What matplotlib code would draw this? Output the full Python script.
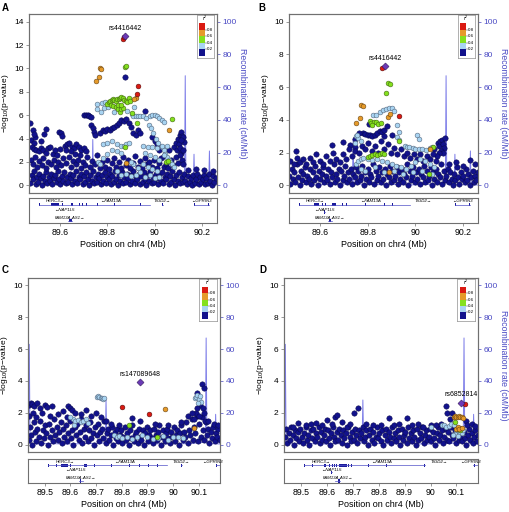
import numpy as np
import matplotlib
matplotlib.use('Agg')
import matplotlib.pyplot as plt
from matplotlib.patches import Rectangle

plt.rcParams['font.family'] = ['Liberation Sans', 'DejaVu Sans']
plt.rcParams['mathtext.default'] = 'regular'

NAVY = '#12128C'
LBLUE = '#A8D4F2'
GREEN = '#84E01E'
ORANGE = '#E59A2A'
RED = '#DA1A12'
LEAD = '#6B3AB6'
REC = '#7C7CE8'
AXBLUE = '#4A4AC4'
FRAME = '#707070'
GENE = '#5050C8'
GENE_DARK = '#1A1A9A'

# recombination map (cM/Mb), same region in all four panels
rec_pos = [89.430, 89.437, 89.440, 89.443, 89.47, 89.52, 89.58, 89.64, 89.70, 89.736, 89.739, 89.742,
           89.78, 89.85, 89.92, 89.99, 90.06, 90.10, 90.126, 90.129, 90.132, 90.150, 90.163, 90.166,
           90.169, 90.20, 90.228, 90.231, 90.234, 90.27]
rec_rate = [0.8, 0.8, 63, 0.5, 0.4, 0.6, 0.3, 0.5, 0.8, 1.0, 28, 1.2,
            0.6, 0.4, 0.5, 0.3, 0.6, 1.0, 1.5, 67, 0.8, 0.4, 0.5, 19,
            0.4, 0.3, 0.4, 21, 0.3, 0.2]

# genes (Mb)
gene_names = ['HERC3', 'FAM13A', 'TIGD2', 'GPRIN3', 'NAP1L5', 'FAM13A-AS1']
gene_start = [89.5136, 89.6471, 90.0325, 90.1655, 89.6171, 89.6330]
gene_end = [89.6471, 89.9783, 90.0341, 90.2292, 89.6190, 89.6510]
gene_strand = ['+', '-', '+', '-', '-', '+']
gene_row = [0, 0, 0, 0, 1, 2]
gene_exons = {
    'HERC3': [89.514, 89.545, 89.566, 89.570, 89.574, 89.578, 89.582, 89.586, 89.590, 89.594,
              89.600, 89.611, 89.622, 89.630, 89.638],
    'FAM13A': [89.650, 89.653, 89.656, 89.660, 89.664, 89.668, 89.672, 89.676, 89.684, 89.695,
               89.712, 89.735, 89.760, 89.790, 89.830, 89.870, 89.905, 89.940, 89.977],
    'TIGD2': [90.033],
    'GPRIN3': [90.167, 90.169, 90.171, 90.228],
    'NAP1L5': [89.618],
    'FAM13A-AS1': [89.640, 89.645, 89.650],
}

# ---------------- panel A ----------------
a_lead = (89.874, 12.75)
a_red = [(89.866, 12.55), (89.870, 12.7), (89.928, 8.47), (89.926, 7.84)]
a_orange = [(89.769, 10.06), (89.773, 9.95), (89.766, 9.30), (89.752, 8.90), (89.920, 7.45),
            (89.913, 7.35), (90.059, 4.73), (89.881, 1.87)]
a_green = [(89.876, 10.1), (89.880, 10.2), (89.926, 5.33), (90.073, 5.68), (89.876, 3.29),
           (90.049, 2.0), (90.055, 2.1),
           (89.800, 7.0), (89.806, 7.1), (89.812, 7.2), (89.818, 7.3), (89.824, 7.35), (89.830, 7.3),
           (89.836, 7.25), (89.842, 7.4), (89.848, 7.35), (89.854, 7.5), (89.860, 7.55), (89.866, 7.45),
           (89.872, 7.3), (89.878, 7.2), (89.884, 7.1), (89.890, 7.5), (89.895, 7.2), (89.815, 6.9),
           (89.825, 6.8), (89.835, 6.7), (89.845, 6.5), (89.852, 6.3), (89.858, 6.5), (89.865, 6.6),
           (89.845, 6.9), (89.860, 6.9), (89.905, 6.2)]
a_lblue = [(89.758, 6.97), (89.758, 6.54), (89.772, 6.25), (89.786, 6.63), (89.779, 7.03), (89.803, 6.69),
           (89.828, 6.25), (89.884, 6.4), (89.905, 6.1), (89.912, 6.69), (89.790, 7.1),
           (89.910, 5.9), (89.920, 5.95), (89.930, 5.9), (89.940, 5.95), (89.950, 5.9), (89.965, 5.8),
           (89.980, 5.95), (89.990, 6.0), (90.000, 6.0), (90.010, 5.95), (90.020, 5.8), (90.030, 5.6),
           (90.040, 5.4), (89.975, 5.2), (89.985, 4.9), (89.995, 4.5), (90.005, 4.0), (90.015, 3.6),
           (90.030, 3.3), (90.040, 3.0), (90.045, 2.7), (90.050, 2.4), (90.060, 2.2), (90.065, 2.0),
           (90.075, 1.8), (90.080, 1.6),
           (89.780, 3.5), (89.800, 3.6), (89.820, 3.8), (89.840, 3.5), (89.860, 3.4), (89.870, 3.4),
           (89.880, 3.5), (89.890, 3.6), (89.820, 3.0), (89.840, 2.9), (89.860, 2.8), (89.800, 2.7),
           (89.780, 2.3), (89.760, 2.0), (89.770, 1.8),
           (89.950, 3.4), (89.970, 3.3), (89.990, 3.3), (90.010, 3.2), (90.030, 3.4), (90.050, 3.4),
           (89.960, 2.8), (89.980, 2.6), (90.000, 2.4), (90.020, 2.2), (90.040, 2.6), (89.950, 1.8),
           (89.970, 1.6), (89.990, 1.4), (90.010, 1.2), (89.930, 1.5), (89.910, 1.8), (89.900, 2.0),
           (89.840, 1.2), (89.860, 0.9), (89.880, 1.0), (89.900, 0.8), (89.920, 0.9), (89.940, 1.1),
           (89.960, 0.7), (89.980, 0.9), (90.000, 0.6), (90.020, 0.7)]
a_navy = [(89.475, 5.3), (89.485, 4.7), (89.478, 3.9), (89.489, 3.6), (89.497, 4.1), (89.492, 4.4),
          (89.535, 4.4), (89.541, 4.8), (89.520, 3.8), (89.597, 4.6), (89.604, 4.5), (89.611, 4.2),
          (89.482, 3.3), (89.490, 3.1), (89.500, 3.0), (89.510, 2.9), (89.519, 3.2), (89.530, 3.0),
          (89.540, 2.8), (89.551, 3.2), (89.560, 3.3), (89.570, 2.7), (89.580, 3.0), (89.589, 2.6),
          (89.600, 3.1), (89.620, 3.4), (89.630, 3.5), (89.640, 3.6), (89.650, 3.3), (89.660, 3.2),
          (89.670, 3.5), (89.680, 3.3), (89.690, 3.0), (89.700, 3.2), (89.710, 2.9), (89.625, 3.0),
          (89.645, 2.9), (89.665, 2.7), (89.685, 2.6),
          (89.703, 6.0), (89.710, 6.0), (89.717, 5.98), (89.724, 5.95), (89.730, 5.85), (89.733, 5.2),
          (89.740, 4.9), (89.745, 4.6), (89.750, 4.3),
          (89.770, 4.5), (89.780, 4.7), (89.790, 4.65), (89.800, 4.8), (89.810, 4.7), (89.820, 4.9),
          (89.830, 5.0), (89.840, 5.2), (89.850, 5.3), (89.860, 5.6), (89.870, 5.5), (89.880, 5.7),
          (89.890, 5.3), (89.900, 5.0), (89.910, 4.5), (89.920, 4.3), (89.930, 4.7), (89.940, 4.5),
          (89.873, 9.3), (89.958, 6.4),
          (89.990, 4.1), (90.000, 3.8), (90.010, 3.5), (90.020, 3.0), (90.040, 2.5), (90.060, 3.0),
          (90.080, 3.3), (90.090, 3.6), (90.100, 4.0), (90.105, 4.3), (90.110, 4.6), (90.115, 4.2),
          (90.120, 4.1), (90.095, 3.0), (90.102, 3.5), (90.108, 3.2), (90.113, 2.8), (90.118, 3.0),
          (90.122, 3.7), (90.112, 3.9),
          (89.478, 2.2), (89.486, 1.8), (89.495, 2.4), (89.503, 1.6), (89.512, 2.1), (89.523, 1.7),
          (89.531, 2.3), (89.543, 1.5), (89.552, 2.0), (89.563, 1.8), (89.574, 2.2), (89.583, 1.6),
          (89.594, 2.0), (89.606, 1.7), (89.615, 2.3), (89.627, 1.9), (89.638, 2.4), (89.648, 1.6),
          (89.657, 2.1), (89.668, 1.8), (89.678, 2.2), (89.688, 1.5), (89.697, 2.0), (89.707, 1.7),
          (89.716, 2.4), (89.727, 1.6), (89.737, 2.1), (89.748, 1.8), (89.758, 2.6), (89.768, 1.5),
          (89.779, 2.0), (89.789, 1.6), (89.799, 2.2), (89.809, 1.4), (89.819, 1.9), (89.829, 2.3),
          (89.839, 1.6), (89.849, 2.0), (89.858, 1.5), (89.868, 2.4), (89.878, 1.7), (89.888, 2.2),
          (89.898, 1.5), (89.908, 1.9), (89.918, 2.5), (89.928, 1.6), (89.938, 2.1), (89.948, 1.5),
          (89.958, 2.3), (89.968, 1.8), (89.978, 2.0), (89.988, 1.6), (89.998, 2.2), (90.008, 1.5),
          (90.018, 1.9), (90.028, 2.3), (90.038, 1.6), (90.048, 1.8), (90.058, 1.5), (90.068, 2.2),
          (90.078, 1.7), (90.088, 2.4), (90.098, 1.9), (90.106, 2.6), (90.114, 2.2), (90.121, 1.8),
          (90.140, 1.3), (90.175, 1.4), (90.210, 1.3), (90.245, 1.2)]
a_band = [(89.476, 0.2), (89.481, 0.9), (89.487, 0.5), (89.492, 1.2), (89.498, 0.1), (89.503, 0.7),
          (89.509, 0.3), (89.514, 1.0), (89.520, 0.6), (89.525, 0.0), (89.531, 0.8), (89.536, 0.4),
          (89.542, 1.1), (89.547, 0.2), (89.553, 0.7), (89.558, 0.4), (89.564, 1.0), (89.569, 0.1),
          (89.575, 0.6), (89.580, 0.9), (89.586, 0.3), (89.591, 1.2), (89.597, 0.5), (89.602, 0.1),
          (89.608, 0.8), (89.613, 0.4), (89.619, 1.1), (89.624, 0.2), (89.630, 0.7), (89.635, 0.3),
          (89.641, 1.0), (89.646, 0.6), (89.652, 0.1), (89.657, 0.9), (89.663, 0.4), (89.668, 1.2),
          (89.674, 0.2), (89.679, 0.7), (89.685, 0.5), (89.690, 1.0), (89.696, 0.1), (89.701, 0.8),
          (89.707, 0.3), (89.712, 1.1), (89.718, 0.5), (89.723, 0.0), (89.729, 0.9), (89.734, 0.4),
          (89.740, 1.2), (89.745, 0.2), (89.751, 0.7), (89.756, 0.3), (89.762, 1.0), (89.767, 0.6),
          (89.773, 0.1), (89.778, 0.9), (89.784, 0.4), (89.789, 1.1), (89.795, 0.2), (89.800, 0.7),
          (89.806, 0.5), (89.811, 1.0), (89.817, 0.1), (89.822, 0.8), (89.828, 0.3), (89.833, 1.2),
          (89.839, 0.5), (89.844, 0.0), (89.850, 0.9), (89.855, 0.4), (89.861, 1.1), (89.866, 0.2),
          (89.872, 0.7), (89.877, 0.3), (89.883, 1.0), (89.888, 0.6), (89.894, 0.1), (89.899, 0.9),
          (89.905, 0.4), (89.910, 1.2), (89.916, 0.2), (89.921, 0.7), (89.927, 0.5), (89.932, 1.0),
          (89.938, 0.1), (89.943, 0.8), (89.949, 0.3), (89.954, 1.1), (89.960, 0.5), (89.965, 0.0),
          (89.971, 0.9), (89.976, 0.4), (89.982, 1.2), (89.987, 0.2), (89.993, 0.7), (89.998, 0.3),
          (90.004, 1.0), (90.009, 0.6), (90.015, 0.1), (90.020, 0.9), (90.026, 0.4), (90.031, 1.1),
          (90.037, 0.2), (90.042, 0.7), (90.048, 0.5), (90.053, 1.0), (90.059, 0.1), (90.064, 0.8),
          (90.070, 0.3), (90.075, 1.2), (90.081, 0.5), (90.086, 0.0), (90.092, 0.9), (90.097, 0.4),
          (90.103, 1.1), (90.108, 0.2), (90.114, 0.7), (90.119, 0.3), (90.125, 1.0), (90.130, 0.4),
          (90.136, 0.1), (90.141, 0.8), (90.147, 0.3), (90.152, 0.6), (90.158, 0.0), (90.163, 0.9),
          (90.169, 0.2), (90.174, 0.5), (90.180, 1.0), (90.185, 0.1), (90.191, 0.7), (90.196, 0.3),
          (90.202, 0.5), (90.207, 0.9), (90.213, 0.1), (90.218, 0.6), (90.224, 0.2), (90.229, 1.0),
          (90.235, 0.4), (90.240, 0.0), (90.246, 0.8), (90.251, 0.3), (90.257, 0.6)]

# ---------------- panel B ----------------
b_lead = (89.872, 7.30)
b_red = [(89.861, 7.2), (89.931, 4.24)]
b_orange = [(89.773, 4.9), (89.779, 4.84), (89.766, 4.14), (89.750, 3.8), (89.886, 4.2), (89.892, 4.34),
            (89.889, 0.84), (90.063, 2.2)]
b_green = [(89.886, 6.28), (89.892, 6.17), (89.878, 5.66), (89.808, 3.95), (89.815, 3.8), (89.825, 3.85),
           (89.835, 3.9), (89.845, 3.75), (89.855, 3.8), (89.818, 3.7), (89.931, 2.74), (90.073, 2.33),
           (90.056, 0.68), (89.800, 1.75), (89.810, 1.8), (89.820, 1.85), (89.830, 1.9), (89.840, 1.85),
           (89.850, 1.9), (89.860, 1.95), (89.870, 1.9)]
b_lblue = [(89.823, 4.3), (89.835, 4.3), (89.850, 4.5), (89.865, 4.6), (89.877, 4.65), (89.890, 4.75),
           (89.900, 4.7), (89.910, 4.55), (89.924, 3.66), (89.931, 3.25), (89.924, 2.94), (89.931, 2.78),
           (89.750, 3.0), (89.760, 2.9), (89.770, 2.7), (89.745, 2.6), (89.757, 3.05),
           (89.955, 2.4), (89.965, 2.35), (89.975, 2.35), (89.990, 2.3), (90.000, 2.25), (90.015, 2.2),
           (90.030, 2.2), (90.045, 2.15), (90.060, 2.3), (90.070, 2.35), (90.009, 3.05), (90.016, 2.84),
           (89.750, 1.3), (89.760, 1.5), (89.770, 1.6), (89.780, 1.7), (89.800, 1.6), (89.820, 1.55),
           (89.840, 1.6), (89.860, 1.5), (89.880, 1.4), (89.900, 1.3), (89.920, 1.2), (89.940, 1.1),
           (89.960, 1.0), (89.980, 1.2), (90.000, 1.4), (90.020, 1.6), (90.040, 1.5), (90.060, 1.3),
           (90.080, 1.1), (89.770, 1.0), (89.790, 0.9), (89.830, 1.1), (89.870, 0.8), (89.910, 0.9),
           (89.950, 0.7), (89.990, 0.8), (90.030, 0.9), (90.070, 0.7)]
b_navy = [(89.780, 3.2), (89.790, 3.15), (89.800, 3.1), (89.810, 3.05), (89.820, 3.0), (89.830, 3.1),
          (89.840, 3.2), (89.850, 3.3), (89.860, 3.25), (89.870, 3.4), (89.880, 3.6), (89.868, 3.0),
          (89.903, 3.09), (89.804, 3.77), (89.748, 2.84), (89.765, 3.2),
          (89.501, 2.08), (89.649, 2.47), (89.698, 2.63), (89.726, 2.49), (89.748, 2.33),
          (90.095, 2.6), (90.100, 2.4), (90.105, 2.7), (90.110, 2.8), (90.115, 2.5), (90.120, 2.3),
          (90.125, 2.9), (90.108, 2.1), (90.118, 2.0), (90.100, 2.0), (90.090, 1.8), (90.080, 2.2),
          (89.476, 1.5), (89.489, 1.3), (89.502, 1.7), (89.515, 1.4), (89.528, 1.6), (89.542, 1.3),
          (89.556, 1.7), (89.570, 1.4), (89.585, 1.9), (89.599, 1.5), (89.612, 1.3), (89.626, 1.8),
          (89.640, 1.5), (89.655, 2.0), (89.668, 1.6), (89.682, 1.4), (89.695, 1.9), (89.710, 1.6),
          (89.722, 2.2), (89.735, 1.8), (89.748, 2.1), (89.762, 2.0), (89.775, 2.4), (89.790, 2.2),
          (89.803, 2.6), (89.817, 2.1), (89.830, 2.4), (89.843, 2.0), (89.857, 2.7), (89.870, 2.2),
          (89.884, 2.5), (89.897, 2.0), (89.911, 2.3), (89.925, 1.9), (89.938, 2.2), (89.952, 1.8),
          (89.966, 2.0), (89.979, 1.7), (89.993, 1.9), (90.006, 1.6), (90.020, 1.9), (90.034, 1.5),
          (90.048, 1.8), (90.061, 1.6), (90.075, 1.9), (90.088, 1.5), (90.140, 1.3), (90.171, 1.44),
          (90.200, 1.2), (90.228, 1.54), (90.250, 1.3)]
b_band = [(89.470, 0.6), (89.475, 0.1), (89.481, 1.0), (89.486, 0.4), (89.492, 0.8), (89.497, 0.2),
          (89.503, 1.3), (89.508, 0.5), (89.514, 0.0), (89.519, 0.9), (89.525, 0.3), (89.530, 0.7),
          (89.536, 1.1), (89.541, 0.2), (89.547, 0.6), (89.552, 0.4), (89.558, 1.0), (89.563, 0.1),
          (89.569, 0.8), (89.574, 0.3), (89.580, 1.2), (89.585, 0.5), (89.591, 0.0), (89.596, 0.9),
          (89.602, 0.4), (89.607, 0.7), (89.613, 1.1), (89.618, 0.2), (89.624, 0.6), (89.629, 0.3),
          (89.635, 1.0), (89.640, 0.1), (89.646, 0.8), (89.651, 0.5), (89.657, 1.3), (89.662, 0.2),
          (89.668, 0.7), (89.673, 0.4), (89.679, 1.0), (89.684, 0.0), (89.690, 0.9), (89.695, 0.3),
          (89.701, 0.6), (89.706, 1.2), (89.712, 0.2), (89.717, 0.8), (89.723, 0.4), (89.728, 1.0),
          (89.734, 0.1), (89.739, 0.7), (89.745, 0.5), (89.750, 1.1), (89.756, 0.2), (89.761, 0.9),
          (89.767, 0.3), (89.772, 0.6), (89.778, 1.2), (89.783, 0.0), (89.789, 0.8), (89.794, 0.4),
          (89.800, 1.0), (89.805, 0.2), (89.811, 0.7), (89.816, 0.5), (89.822, 1.3), (89.827, 0.1),
          (89.833, 0.9), (89.838, 0.3), (89.844, 0.6), (89.849, 1.1), (89.855, 0.2), (89.860, 0.8),
          (89.866, 0.4), (89.871, 1.0), (89.877, 0.0), (89.882, 0.7), (89.888, 0.5), (89.893, 1.2),
          (89.899, 0.2), (89.904, 0.9), (89.910, 0.3), (89.915, 0.6), (89.921, 1.1), (89.926, 0.1),
          (89.932, 0.8), (89.937, 0.4), (89.943, 1.0), (89.948, 0.2), (89.954, 0.7), (89.959, 0.5),
          (89.965, 1.3), (89.970, 0.0), (89.976, 0.9), (89.981, 0.3), (89.987, 0.6), (89.992, 1.1),
          (89.998, 0.2), (90.003, 0.8), (90.009, 0.4), (90.014, 1.0), (90.020, 0.1), (90.025, 0.7),
          (90.031, 0.5), (90.036, 1.2), (90.042, 0.2), (90.047, 0.9), (90.053, 0.3), (90.058, 0.6),
          (90.064, 1.1), (90.069, 0.0), (90.075, 0.8), (90.080, 0.4), (90.086, 1.0), (90.091, 0.2),
          (90.097, 0.7), (90.102, 0.5), (90.108, 1.3), (90.113, 0.1), (90.119, 0.9), (90.124, 0.3),
          (90.130, 0.6), (90.135, 1.0), (90.141, 0.2), (90.146, 0.8), (90.152, 0.4), (90.157, 0.0),
          (90.163, 0.7), (90.168, 0.3), (90.174, 1.1), (90.179, 0.5), (90.185, 0.1), (90.190, 0.8),
          (90.196, 0.4), (90.201, 0.6), (90.207, 0.2), (90.212, 1.0), (90.218, 0.3), (90.223, 0.7),
          (90.229, 0.0), (90.234, 0.5), (90.240, 0.9), (90.245, 0.2), (90.251, 0.6), (90.256, 0.3),
          (90.261, 0.8)]

# ---------------- panel C ----------------
c_lead = (89.873, 3.94)
c_red = [(89.802, 2.33), (89.907, 1.92)]
c_orange = [(89.969, 2.25), (90.083, 1.04)]
c_green = [(89.828, 1.25), (89.938, 0.46)]
c_lblue = [(89.702, 3.0), (89.707, 3.02), (89.713, 2.98), (89.719, 2.95), (89.724, 2.9), (89.729, 2.85),
           (89.733, 2.95), (89.610, 1.6), (89.620, 1.5), (89.630, 1.55), (89.640, 1.4), (89.650, 1.45),
           (89.660, 1.6), (89.670, 1.35), (89.600, 1.7), (89.615, 1.25),
           (89.770, 0.6), (89.780, 0.5), (89.790, 0.55), (89.800, 0.4), (89.820, 0.5), (89.840, 0.35),
           (89.860, 0.45), (89.880, 0.6), (89.900, 0.5), (89.920, 0.35), (89.940, 0.4), (89.960, 0.55),
           (89.980, 0.3), (90.000, 0.45), (90.020, 0.5), (90.040, 0.4),
           (90.086, 2.9), (90.090, 3.0), (90.095, 3.1), (90.100, 2.85), (90.105, 3.05), (90.110, 2.7),
           (90.098, 2.6)]
c_navy = [(90.113, 3.79), (90.121, 3.58), (90.093, 3.23), (90.105, 2.5), (90.115, 2.3), (90.090, 2.0),
          (90.100, 1.8), (90.080, 1.6), (90.120, 2.0), (90.125, 1.5),
          (89.440, 2.5), (89.445, 2.6), (89.450, 2.55), (89.460, 2.4), (89.470, 2.6), (89.480, 2.3),
          (89.500, 2.5), (89.510, 2.35), (89.530, 2.4), (89.590, 2.4), (89.600, 2.3), (89.605, 2.2),
          (89.440, 1.8), (89.455, 2.0), (89.468, 1.7), (89.490, 2.0), (89.520, 1.8), (89.550, 1.9),
          (89.570, 2.1), (89.585, 1.7), (89.620, 2.0), (89.640, 1.9), (89.660, 2.2), (89.680, 1.8),
          (89.700, 2.0), (89.720, 1.7), (89.740, 1.5), (89.760, 1.3), (89.790, 1.2), (89.840, 1.65),
          (89.870, 1.45), (89.930, 1.3), (89.980, 1.2), (90.030, 1.4), (90.060, 1.8), (90.075, 2.0),
          (90.095, 2.3), (90.135, 1.5), (90.160, 1.3), (90.175, 1.2)]
c_band = [(89.437, 0.3), (89.442, 1.1), (89.447, 0.6), (89.452, 0.0), (89.457, 1.4), (89.462, 0.8),
          (89.467, 0.2), (89.472, 1.0), (89.477, 0.5), (89.482, 1.5), (89.487, 0.1), (89.492, 0.9),
          (89.497, 0.4), (89.502, 1.2), (89.507, 0.7), (89.512, 0.0), (89.517, 1.3), (89.522, 0.5),
          (89.527, 0.9), (89.532, 0.2), (89.537, 1.6), (89.542, 0.6), (89.547, 1.1), (89.552, 0.3),
          (89.557, 0.8), (89.562, 1.4), (89.567, 0.1), (89.572, 1.0), (89.577, 0.5), (89.582, 1.2),
          (89.587, 0.2), (89.592, 0.7), (89.597, 1.5), (89.602, 0.4), (89.607, 0.9), (89.612, 0.0),
          (89.617, 1.1), (89.622, 0.6), (89.627, 1.3), (89.632, 0.3), (89.637, 0.8), (89.642, 1.6),
          (89.647, 0.1), (89.652, 1.0), (89.657, 0.5), (89.662, 1.2), (89.667, 0.2), (89.672, 0.9),
          (89.677, 1.4), (89.682, 0.4), (89.687, 0.7), (89.692, 0.0), (89.697, 1.1), (89.702, 0.6),
          (89.707, 1.3), (89.712, 0.2), (89.717, 0.8), (89.722, 1.0), (89.727, 0.4), (89.732, 1.5),
          (89.737, 0.1), (89.742, 0.7), (89.747, 1.0), (89.752, 0.3), (89.757, 0.6), (89.762, 1.1),
          (89.767, 0.0), (89.772, 0.8), (89.777, 0.4), (89.782, 1.0), (89.787, 0.2), (89.792, 0.6),
          (89.797, 0.9), (89.802, 0.1), (89.807, 0.5), (89.812, 1.1), (89.817, 0.3), (89.822, 0.7),
          (89.827, 0.0), (89.832, 0.9), (89.837, 0.4), (89.842, 1.2), (89.847, 0.2), (89.852, 0.6),
          (89.857, 0.8), (89.862, 0.1), (89.867, 1.0), (89.872, 0.5), (89.877, 0.3), (89.882, 0.9),
          (89.887, 0.0), (89.892, 0.7), (89.897, 1.1), (89.902, 0.2), (89.907, 0.6), (89.912, 0.9),
          (89.917, 0.4), (89.922, 0.1), (89.927, 1.0), (89.932, 0.6), (89.937, 0.3), (89.942, 0.8),
          (89.947, 1.2), (89.952, 0.0), (89.957, 0.5), (89.962, 0.9), (89.967, 0.2), (89.972, 0.7),
          (89.977, 1.0), (89.982, 0.4), (89.987, 0.1), (89.992, 0.8), (89.997, 0.5), (90.002, 1.1),
          (90.007, 0.2), (90.012, 0.6), (90.017, 0.9), (90.022, 0.0), (90.027, 0.7), (90.032, 1.2),
          (90.037, 0.3), (90.042, 0.8), (90.047, 0.5), (90.052, 1.4), (90.057, 0.1), (90.062, 0.9),
          (90.067, 0.6), (90.072, 1.6), (90.077, 0.3), (90.082, 1.1), (90.087, 0.7), (90.092, 1.8),
          (90.097, 0.2), (90.102, 1.3), (90.107, 0.5), (90.112, 1.7), (90.117, 0.9), (90.122, 0.3),
          (90.127, 1.4), (90.132, 0.6), (90.137, 1.0), (90.142, 0.1), (90.147, 0.8), (90.152, 0.4),
          (90.157, 1.1), (90.162, 0.2), (90.167, 0.7), (90.172, 0.5), (90.177, 1.0), (90.181, 0.3)]

# ---------------- panel D ----------------
d_lead = (90.118, 2.64)
d_red = [(90.131, 2.52)]
d_orange = [(90.090, 1.75), (90.095, 1.8), (90.100, 1.7), (90.105, 1.75), (90.110, 1.8), (90.115, 1.7),
            (90.120, 1.75), (90.125, 1.65), (90.100, 1.0), (90.105, 1.1), (90.110, 0.95), (90.120, 1.05)]
d_green = [(90.093, 1.44), (90.103, 0.99), (90.115, 0.9)]
d_lblue = [(90.045, 1.2), (90.050, 1.25), (90.060, 1.1), (90.070, 1.15), (90.080, 1.3), (90.090, 1.2),
           (90.100, 0.9), (90.110, 0.8), (90.115, 0.7), (90.120, 0.75), (90.125, 0.9), (90.095, 0.65),
           (90.000, 1.1), (90.085, 0.6), (90.105, 0.55)]
d_navy = [(89.470, 1.1), (89.489, 1.38), (89.520, 1.2), (89.540, 1.3), (89.560, 1.35), (89.580, 1.25),
          (89.600, 1.55), (89.620, 1.3), (89.631, 1.75), (89.640, 1.86), (89.660, 1.4), (89.677, 1.13),
          (89.690, 1.3), (89.706, 1.96), (89.722, 2.27), (89.750, 1.3), (89.780, 1.2), (89.810, 1.25),
          (89.838, 1.65), (89.860, 1.2), (89.880, 1.3), (89.909, 1.65), (89.930, 1.2), (89.950, 1.3),
          (89.970, 1.1), (90.000, 1.2), (90.020, 1.25), (90.040, 1.3), (90.058, 2.41), (90.064, 2.0),
          (90.084, 1.96), (90.075, 1.6), (90.135, 1.5), (90.140, 1.2), (90.160, 1.3), (90.170, 1.15)]
d_band = [(89.438, 0.5), (89.443, 1.0), (89.448, 0.1), (89.453, 0.7), (89.458, 0.3), (89.463, 1.1),
          (89.468, 0.6), (89.473, 0.0), (89.478, 0.9), (89.483, 0.4), (89.488, 0.8), (89.493, 0.2),
          (89.498, 1.0), (89.503, 0.5), (89.508, 0.1), (89.513, 0.7), (89.518, 1.1), (89.523, 0.3),
          (89.528, 0.6), (89.533, 0.0), (89.538, 0.9), (89.543, 0.4), (89.548, 1.0), (89.553, 0.2),
          (89.558, 0.7), (89.563, 0.5), (89.568, 1.1), (89.573, 0.1), (89.578, 0.8), (89.583, 0.3),
          (89.588, 0.6), (89.593, 1.0), (89.598, 0.2), (89.603, 0.9), (89.608, 0.4), (89.613, 0.0),
          (89.618, 0.7), (89.623, 1.1), (89.628, 0.5), (89.633, 0.2), (89.638, 0.8), (89.643, 0.3),
          (89.648, 1.0), (89.653, 0.6), (89.658, 0.1), (89.663, 0.9), (89.668, 0.4), (89.673, 0.7),
          (89.678, 0.0), (89.683, 1.1), (89.688, 0.5), (89.693, 0.2), (89.698, 0.8), (89.703, 0.3),
          (89.708, 1.0), (89.713, 0.6), (89.718, 0.1), (89.723, 0.9), (89.728, 0.4), (89.733, 0.7),
          (89.738, 1.1), (89.743, 0.2), (89.748, 0.5), (89.753, 0.9), (89.758, 0.0), (89.763, 0.6),
          (89.768, 1.0), (89.773, 0.3), (89.778, 0.8), (89.783, 0.1), (89.788, 0.5), (89.793, 1.1),
          (89.798, 0.4), (89.803, 0.7), (89.808, 0.2), (89.813, 0.9), (89.818, 0.0), (89.823, 0.6),
          (89.828, 1.0), (89.833, 0.3), (89.838, 0.8), (89.843, 0.5), (89.848, 0.1), (89.853, 1.1),
          (89.858, 0.4), (89.863, 0.7), (89.868, 0.2), (89.873, 0.9), (89.878, 0.5), (89.883, 0.0),
          (89.888, 1.0), (89.893, 0.3), (89.898, 0.6), (89.903, 0.8), (89.908, 0.1), (89.913, 1.1),
          (89.918, 0.4), (89.923, 0.7), (89.928, 0.2), (89.933, 0.9), (89.938, 0.5), (89.943, 0.0),
          (89.948, 1.0), (89.953, 0.3), (89.958, 0.7), (89.963, 0.4), (89.968, 1.1), (89.973, 0.1),
          (89.978, 0.6), (89.983, 0.9), (89.988, 0.3), (89.993, 0.5), (89.998, 1.0), (90.003, 0.2),
          (90.008, 0.8), (90.013, 0.4), (90.018, 0.0), (90.023, 0.7), (90.028, 1.1), (90.033, 0.3),
          (90.038, 0.6), (90.043, 0.9), (90.048, 0.1), (90.053, 0.5), (90.058, 1.0), (90.063, 0.3),
          (90.068, 0.8), (90.073, 0.2), (90.078, 1.1), (90.083, 0.6), (90.088, 0.4), (90.093, 0.9),
          (90.098, 0.1), (90.103, 0.7), (90.108, 0.3), (90.113, 0.5), (90.118, 1.0), (90.123, 0.2),
          (90.128, 0.8), (90.133, 0.4), (90.138, 0.0), (90.143, 0.6), (90.148, 1.0), (90.153, 0.3),
          (90.158, 0.7), (90.163, 0.1), (90.168, 0.5), (90.173, 0.9), (90.178, 0.2), (90.182, 0.6)]


def scatter(ax, pts, color, edge, z, marker='o', size=12):
    p = np.array(pts)
    ax.scatter(p[:, 0], p[:, 1], s=size, c=color, marker=marker, edgecolors=edge,
               linewidths=0.35, zorder=z, clip_on=True)


def r2_legend(ax):
    lg = ax.inset_axes([0.892, 0.755, 0.09, 0.24])
    lg.set_zorder(10)
    lg.set_xlim(0, 1)
    lg.set_ylim(0, 1)
    lg.set_xticks([])
    lg.set_yticks([])
    for s in lg.spines.values():
        s.set_color('#909090')
        s.set_linewidth(0.5)
    cols = [NAVY, LBLUE, GREEN, ORANGE, RED]
    y0, hh = 0.05, 0.152
    for i, c in enumerate(cols):
        lg.add_patch(Rectangle((0.15, y0 + i * hh), 0.35, hh, facecolor=c, edgecolor='none'))
    for i, lab in enumerate(['0.2', '0.4', '0.6', '0.8']):
        yy = y0 + (i + 1) * hh
        lg.plot([0.5, 0.62], [yy, yy], color='#333333', lw=0.3)
        lg.text(0.63, yy, lab, fontsize=3.2, va='center', ha='left')
    lg.text(0.5, 0.91, 'r$^2$', fontsize=3.6, ha='center', va='center', style='italic')


def draw_genes(gx, xlim):
    row_line = [0.73, 0.44, 0.09]
    row_text = [0.89, 0.53, 0.21]
    for name, start, end, strand, row in zip(gene_names, gene_start, gene_end, gene_strand, gene_row):
        yl, yt = row_line[row], row_text[row]
        gx.plot([start, end], [yl, yl], color=GENE, lw=0.5)
        for e in gene_exons[name]:
            gx.add_patch(Rectangle((e - 0.0012, yl - 0.07), 0.0024, 0.14, facecolor=GENE_DARK,
                                   edgecolor='none'))
        lab = name + '\u2192' if strand == '+' else '\u2190' + name
        cx = (max(start, xlim[0]) + min(end, xlim[1])) / 2
        cx = min(cx, xlim[1] - 0.028)
        gx.text(cx, yt, lab, fontsize=3.2, style='italic', ha='center', va='center')


def locus_panel(main_rect, gene_rect, xlim, ytop, xticks, letter, letter_xy,
                navy, lblue, green, orange, red, lead, lead_name, right_label=True):
    ax = fig.add_axes(main_rect)
    tw = ax.twinx()
    ax.set_zorder(tw.get_zorder() + 1)
    ax.patch.set_visible(False)

    tw.plot(rec_pos, rec_rate, color=REC, lw=0.7)
    tw.set_ylim(-0.047 * 100, 100 * 1.047)
    tw.set_yticks([0, 20, 40, 60, 80, 100])
    tw.tick_params(axis='y', colors=AXBLUE, length=2.5, width=0.5, labelsize=6, pad=1.5)
    if right_label:
        tw.set_ylabel('Recombination rate (cM/Mb)', rotation=270, color=AXBLUE, fontsize=6.3,
                      labelpad=7)

    scatter(ax, navy, NAVY, '#08084A', 2, size=15)
    scatter(ax, lblue, LBLUE, '#4A5A70', 3)
    scatter(ax, green, GREEN, '#3A5A10', 4)
    scatter(ax, orange, ORANGE, '#5A3A10', 5)
    scatter(ax, red, RED, '#4A0A0A', 6)
    scatter(ax, [lead], LEAD, '#2A1050', 7, marker='D', size=13)
    ax.annotate(lead_name, lead, xytext=(0, 3), textcoords='offset points', ha='center',
                va='bottom', fontsize=5)

    ax.set_xlim(xlim)
    ax.set_ylim(-0.047 * ytop, ytop * 1.047)
    ax.set_yticks(np.arange(0, ytop + 1, 2))
    ax.set_xticks([])
    ax.tick_params(axis='y', length=2.5, width=0.5, color=FRAME, labelsize=6, pad=1.5)
    ax.set_ylabel('\u2212log$_{10}$(p\u2212value)', fontsize=6, labelpad=2)
    for s in list(ax.spines.values()) + list(tw.spines.values()):
        s.set_color(FRAME)
        s.set_linewidth(0.8)
    r2_legend(ax)

    gx = fig.add_axes(gene_rect)
    gx.set_xlim(xlim)
    gx.set_ylim(0, 1)
    gx.set_yticks([])
    gx.set_xticks(xticks)
    gx.set_xticklabels([f'{t:g}' for t in xticks])
    gx.tick_params(axis='x', length=2, width=0.5, color=FRAME, labelsize=6.3, pad=1.5)
    gx.set_xlabel('Position on chr4 (Mb)', fontsize=6.5, labelpad=2)
    for s in gx.spines.values():
        s.set_color(FRAME)
        s.set_linewidth(0.8)
    draw_genes(gx, xlim)

    fig.text(letter_xy[0], letter_xy[1], letter, fontsize=7, fontweight='bold', va='top', ha='left')


fig = plt.figure(figsize=(5.1, 5.12), dpi=100)

xl_ab = (89.470, 90.263)
xl_cd = (89.435, 90.183)
ticks_ab = [89.6, 89.8, 90.0, 90.2]
ticks_cd = [89.5, 89.6, 89.7, 89.8, 89.9, 90.0, 90.1]

locus_panel([0.0569, 0.623, 0.3686, 0.3496], [0.0569, 0.5645, 0.3686, 0.0488], xl_ab, 14, ticks_ab,
            'A', (0.004, 0.995), a_band + a_navy, a_lblue, a_green, a_orange, a_red, a_lead, 'rs4416442')
locus_panel([0.5667, 0.623, 0.3706, 0.3496], [0.5667, 0.5645, 0.3706, 0.0488], xl_ab, 10, ticks_ab,
            'B', (0.506, 0.995), b_band + b_navy, b_lblue, b_green, b_orange, b_red, b_lead, 'rs4416442')
locus_panel([0.0549, 0.1172, 0.3765, 0.3398], [0.0549, 0.0566, 0.3765, 0.0469], xl_cd, 10, ticks_cd,
            'C', (0.004, 0.483), c_band + c_navy, c_lblue, c_green, c_orange, c_red, c_lead, 'rs147089648',
            right_label=False)
locus_panel([0.5569, 0.1172, 0.3804, 0.3398], [0.5569, 0.0566, 0.3804, 0.0469], xl_cd, 10, ticks_cd,
            'D', (0.508, 0.483), d_band + d_navy, d_lblue, d_green, d_orange, d_red, d_lead, 'rs6852814')

fig.savefig('out.png', dpi=100)
